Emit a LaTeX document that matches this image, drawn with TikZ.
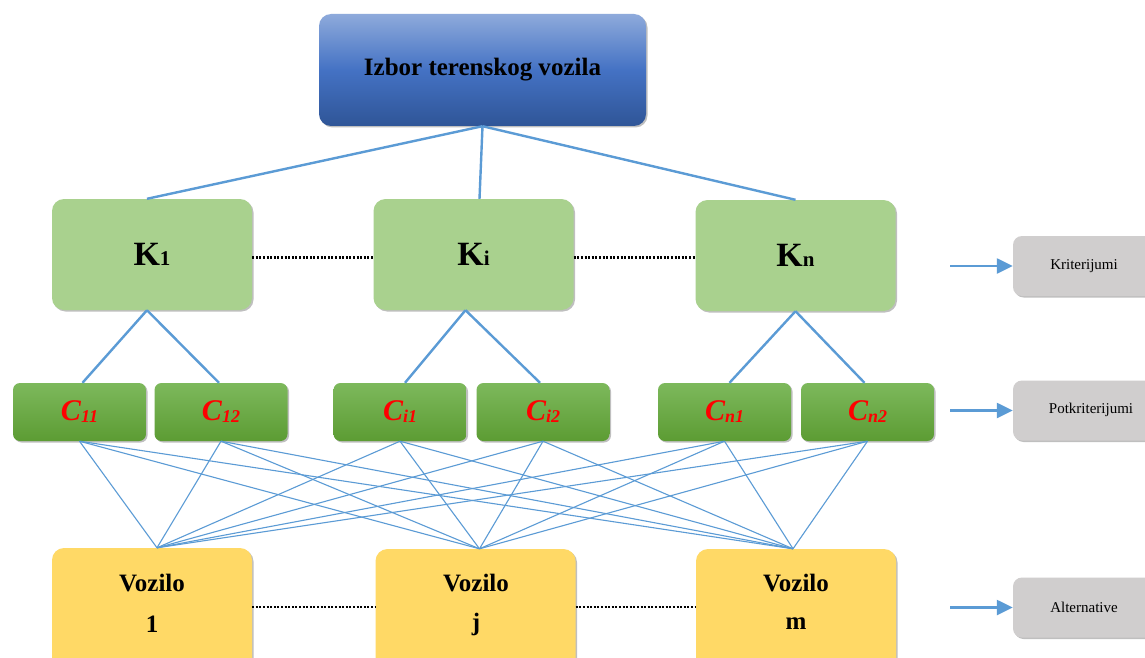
\documentclass[tikz,border=0pt]{standalone}
\usepackage{fontspec}
\setmainfont{Liberation Serif}
\usetikzlibrary{shadows,arrows.meta}
\definecolor{linec}{HTML}{5B9BD5}
\definecolor{kfill}{HTML}{A9D18E}
\definecolor{vfill}{HTML}{FFD966}
\definecolor{gfill}{HTML}{D0CECE}
\definecolor{toptop}{HTML}{8EAADB}
\definecolor{topmid}{HTML}{4472C4}
\definecolor{topbot}{HTML}{2F5597}
\definecolor{ctop}{HTML}{7DB95C}
\definecolor{cbot}{HTML}{5C9C33}
\tikzset{
  boxbase/.style={rounded corners=12pt, draw=none, inner sep=0pt,
    drop shadow={shadow xshift=1.5pt, shadow yshift=-1.5pt, opacity=0.25, fill=black}},
  topbox/.style={boxbase, minimum width=327pt, minimum height=112pt,
    top color=toptop, bottom color=topbot, middle color=topmid,
    font=\fontsize{25}{30}\selectfont\bfseries},
  kbox/.style={boxbase, fill=kfill, minimum width=200pt, minimum height=111pt},
  cbox/.style={boxbase, rounded corners=7pt, minimum width=133pt, minimum height=58pt,
    top color=ctop, bottom color=cbot},
  vbox/.style={boxbase, fill=vfill, minimum width=200pt, minimum height=130pt},
  vtext/.style={font=\fontsize{25}{30}\selectfont\bfseries},
  gbox/.style={boxbase, rounded corners=9pt, fill=gfill, minimum width=150pt, minimum height=60pt},
  glabel/.style={font=\fontsize{15}{17}\selectfont, anchor=center},
  conn/.style={draw=linec, line width=2.4pt},
  thinc/.style={draw=linec, line width=1.1pt},
  dots/.style={draw=black, line width=2.4pt, dash pattern=on 2pt off 1.6pt},
  arr/.style={draw=linec, line width=2.4pt, -{Triangle[length=16pt,width=15pt]}},
}
\newcommand{\klab}[1]{{\fontsize{34}{36}\selectfont\bfseries K}{\fontsize{21}{24}\selectfont\bfseries #1}}
\newcommand{\clab}[1]{\textcolor{red}{\bfseries\itshape{\fontsize{30}{32}\selectfont C}\raisebox{-2pt}{\fontsize{18}{20}\selectfont #1}}}
\begin{document}
\begin{tikzpicture}[x=1pt,y=-1pt]
\useasboundingbox[fill=white] (0,0) rectangle (1145,658);

\node[topbox] (top) at (482.5,70) {Izbor terenskog vozila};

\node[kbox] (K1) at (152,254.5) {\klab{1}};
\node[kbox] (Ki) at (473.5,254.5) {\klab{i}};
\node[kbox] (Kn) at (795.5,255.5) {\klab{n}};

\node[cbox] (C11) at (79.5,412) {\clab{11}};
\node[cbox] (C12) at (221,412) {\clab{12}};
\node[cbox] (Ci1) at (400,412) {\clab{i1}};
\node[cbox] (Ci2) at (543,412) {\clab{i2}};
\node[cbox] (Cn1) at (724.5,412) {\clab{n1}};
\node[cbox] (Cn2) at (867.5,412) {\clab{n2}};

\node[vbox] (V1) at (152,613) {};
\node[vbox] (Vj) at (475.5,614) {};
\node[vbox] (Vm) at (796,614) {};
\node[vtext] (V1a) at (152,583) {Vozilo};
\node[vtext] (V1b) at (152,624) {1};
\node[vtext] (Vja) at (476,583) {Vozilo};
\node[vtext] (Vjb) at (476,624) {j};
\node[vtext] (Vma) at (796,583) {Vozilo};
\node[vtext] (Vmb) at (796,624) {m};

% right legend
\node[gbox] (G1) at (1088,266) {};
\node[gbox] (G2) at (1088,410.5) {};
\node[gbox] (G3) at (1088,607.5) {};
\node[glabel] (G1t) at (1084,266) {Kriterijumi};
\node[glabel] (G2t) at (1091,410) {Potkriterijumi};
\node[glabel] (G3t) at (1084,607) {Alternative};
\coordinate (A1) at (950,266);
\coordinate (A2) at (950,410.5);
\coordinate (A3) at (950,607.5);
\draw[arr] (A1) -- (G1.west);
\draw[arr] (A2) -- (G2.west);
\draw[arr] (A3) -- (G3.west);

% top connectors
\draw[conn] (top.south) -- ([xshift=-5pt]K1.north);
\draw[conn] (top.south) -- ([xshift=6pt]Ki.north);
\draw[conn] (top.south) -- (Kn.north);

% dotted
\draw[dots] ([yshift=-3pt]K1.east) -- ([yshift=-3pt]Ki.west);
\draw[dots] ([yshift=-3pt]Ki.east) -- ([yshift=-2pt]Kn.west);
\draw[dots] ([yshift=6pt]V1.east) -- ([yshift=7pt]Vj.west);
\draw[dots] ([yshift=7pt]Vj.east) -- ([yshift=7pt]Vm.west);

% K to C
\draw[conn] ([xshift=-5pt]K1.south) -- ([xshift=3pt]C11.north);
\draw[conn] ([xshift=-5pt]K1.south) -- ([xshift=-2pt]C12.north);
\draw[conn] ([xshift=-8pt]Ki.south) -- ([xshift=5pt]Ci1.north);
\draw[conn] ([xshift=-8pt]Ki.south) -- ([xshift=-3pt]Ci2.north);
\draw[conn] (Kn.south) -- ([xshift=5pt]Cn1.north);
\draw[conn] (Kn.south) -- ([xshift=-3pt]Cn2.north);

% C to V
\foreach \c in {C11,C12,Ci1,Ci2,Cn1,Cn2}{
  \draw[thinc] (\c.south) -- ([xshift=5pt]V1.north);
  \draw[thinc] (\c.south) -- ([xshift=4pt]Vj.north);
  \draw[thinc] (\c.south) -- ([xshift=-3pt]Vm.north);
}
\end{tikzpicture}
\end{document}
